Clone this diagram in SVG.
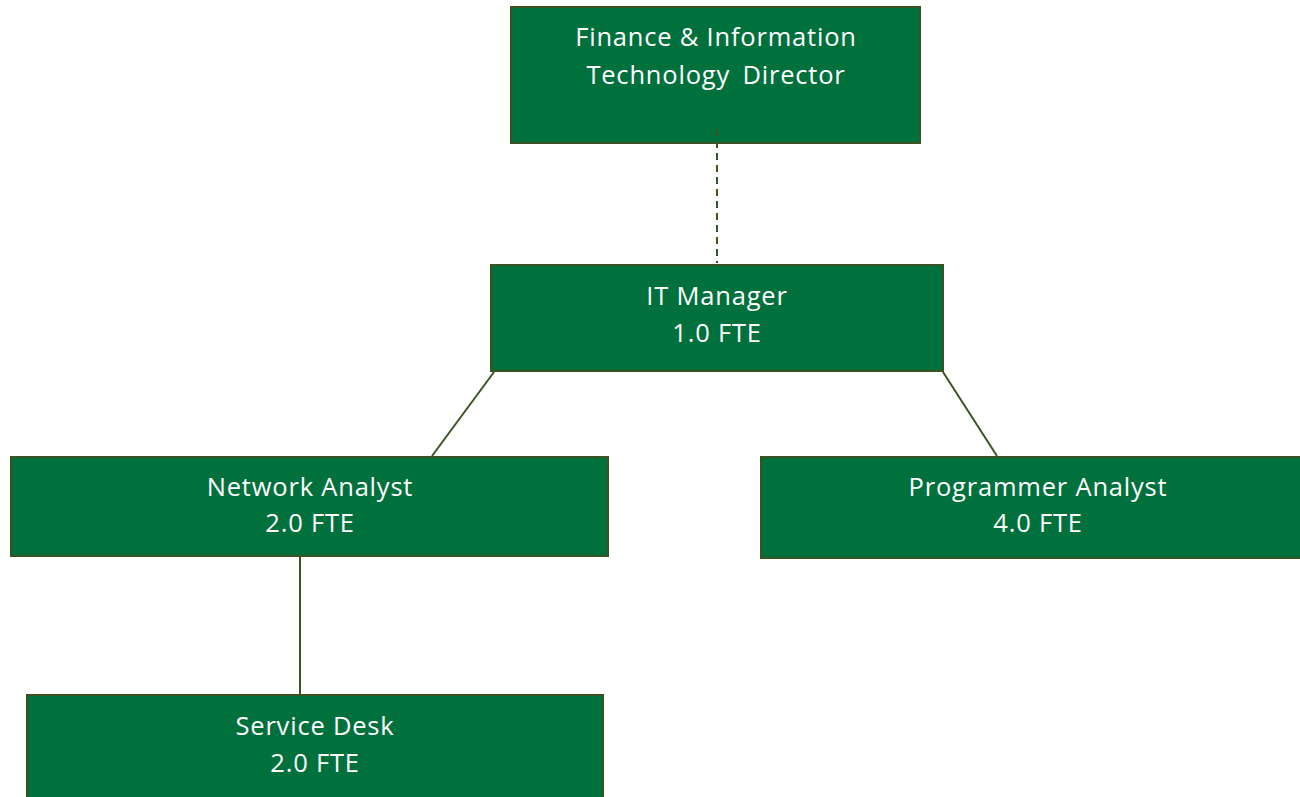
<svg xmlns="http://www.w3.org/2000/svg" width="1300" height="797" viewBox="0 0 1300 797">
<style>
.box{fill:#00703C;stroke:#3B5323;stroke-width:2}
.t{font-family:"Open Sans","Liberation Sans",Arial,sans-serif;font-size:25.5px;letter-spacing:0.8px;fill:#ffffff;text-anchor:middle}
.c{stroke:#3B5323;stroke-width:2;fill:none}
</style>
<rect width="1300" height="797" fill="#ffffff"/>
<g id="n-director">
<rect class="box" x="511" y="7" width="409" height="136"/>
<text class="t" x="716" y="46">Finance &amp; Information</text>
<text class="t" x="716" y="84" word-spacing="5">Technology Director</text>
</g>
<g id="n-itmanager">
<rect class="box" x="491" y="265" width="452" height="106"/>
<text class="t" x="717" y="305">IT Manager</text>
<text class="t" x="717" y="342">1.0 FTE</text>
</g>
<g id="n-network">
<rect class="box" x="11" y="457" width="597" height="99"/>
<text class="t" x="310" y="496">Network Analyst</text>
<text class="t" x="310" y="532">2.0 FTE</text>
</g>
<g id="n-programmer">
<rect class="box" x="761" y="457" width="545" height="101"/>
<text class="t" x="1038" y="496">Programmer Analyst</text>
<text class="t" x="1038" y="532">4.0 FTE</text>
</g>
<g id="n-servicedesk">
<rect class="box" x="27" y="695" width="576" height="110"/>
<text class="t" x="315" y="735">Service Desk</text>
<text class="t" x="315" y="772">2.0 FTE</text>
</g>
<g id="connectors">
<line class="c" x1="717" y1="129" x2="717" y2="263" stroke-dasharray="7,5"/>
<line class="c" x1="494" y1="372" x2="432" y2="456"/>
<line class="c" x1="943" y1="372" x2="997" y2="456"/>
<line class="c" x1="300" y1="557" x2="300" y2="694"/>
</g>
</svg>
